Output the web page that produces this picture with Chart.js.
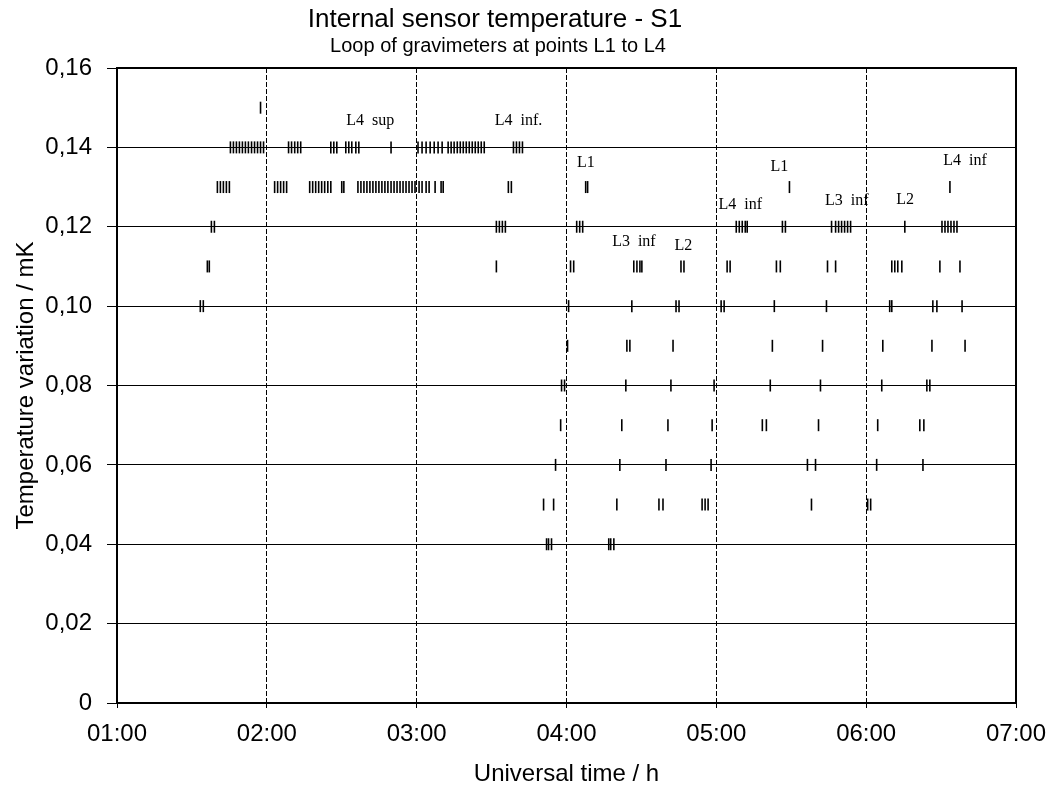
<!DOCTYPE html>
<html>
<head>
<meta charset="utf-8">
<script src="https://cdn.jsdelivr.net/npm/chart.js@4"></script>
<style>
  html, body { margin: 0; padding: 0; background: #fff; }
  #wrap { width: 1047px; height: 787px; }
</style>
</head>
<body>
<div id="wrap"><canvas id="chart" width="1047" height="787"></canvas></div>
<script>
// Temperature levels (mK) and the times (decimal hours UT) of the readings at each level
const levels = [0.15, 0.14, 0.13, 0.12, 0.11, 0.10, 0.09, 0.08, 0.07, 0.06, 0.05, 0.04];

const t015 = [1.958];
const t014 = [1.757, 1.777, 1.797, 1.817, 1.837, 1.857, 1.877, 1.898, 1.918, 1.938, 1.958, 1.978,
    2.145, 2.165, 2.186, 2.206, 2.226, 2.427, 2.447, 2.467, 2.527, 2.547, 2.567, 2.594, 2.614, 2.829,
    3.009, 3.036, 3.063, 3.090, 3.117, 3.143, 3.170, 3.210, 3.230, 3.250, 3.271, 3.291, 3.311, 3.331,
    3.351, 3.371, 3.391, 3.411, 3.431, 3.451, 3.646, 3.666, 3.686, 3.706];
const t013 = [1.670, 1.690, 1.710, 1.730, 1.750, 2.052, 2.072, 2.092, 2.112, 2.132,
    2.286, 2.306, 2.326, 2.346, 2.366, 2.386, 2.407, 2.427, 2.500, 2.514,
    2.608, 2.628, 2.648, 2.668, 2.688, 2.708, 2.728, 2.748, 2.768, 2.788, 2.808, 2.829, 2.849, 2.869,
    2.889, 2.909, 2.929, 2.949, 2.969, 2.989, 3.016, 3.036, 3.063, 3.083, 3.123, 3.163, 3.177,
    3.612, 3.632, 4.128, 4.141, 5.488, 6.559];
const t012 = [1.630, 1.650, 3.532, 3.552, 3.572, 3.592, 4.068, 4.088, 4.108,
    5.133, 5.153, 5.173, 5.193, 5.206, 5.441, 5.461, 5.769, 5.796, 5.816, 5.836, 5.856, 5.876, 5.896,
    6.258, 6.506, 6.526, 6.546, 6.566, 6.586, 6.606];
const t011 = [1.603, 1.616, 3.532, 4.027, 4.048, 4.449, 4.470, 4.490, 4.503, 4.764, 4.784,
    5.072, 5.092, 5.401, 5.427, 5.742, 5.796, 6.171, 6.191, 6.211, 6.238, 6.492, 6.626];
const t010 = [1.556, 1.576, 4.014, 4.436, 4.731, 4.751, 5.032, 5.052, 5.387, 5.735,
    6.157, 6.171, 6.445, 6.472, 6.640];
const t009 = [4.007, 4.403, 4.423, 4.711, 5.374, 5.709, 6.111, 6.439, 6.660];
const t008 = [3.967, 3.987, 4.396, 4.697, 4.985, 5.360, 5.695, 6.104, 6.405, 6.425];
const t007 = [3.961, 4.369, 4.677, 4.972, 5.307, 5.334, 5.682, 6.077, 6.358, 6.385];
const t006 = [3.927, 4.356, 4.664, 4.965, 5.608, 5.662, 6.070, 6.379];
const t005 = [3.847, 3.914, 4.336, 4.617, 4.644, 4.905, 4.925, 4.945, 5.635, 6.010, 6.030];
const t004 = [3.867, 3.880, 3.900, 4.282, 4.295, 4.316];

const timesByLevel = [t015, t014, t013, t012, t011, t010, t009, t008, t007, t006, t005, t004];

// Station annotations
const noteTexts  = ['L4  sup', 'L4  inf.', 'L1', 'L3  inf', 'L2', 'L4  inf', 'L1', 'L3  inf', 'L2', 'L4  inf'];
const noteTimes  = [2.69, 3.68, 4.13, 4.45, 4.78, 5.16, 5.42, 5.87, 6.26, 6.66];
const noteValues = [0.1467, 0.1467, 0.1360, 0.1162, 0.1152, 0.1255, 0.1350, 0.1265, 0.1268, 0.1366];

const points = [];
levels.forEach((lvl, i) => {
    timesByLevel[i].forEach(t => points.push({ x: t, y: lvl }));
});

const fmtTime = v => (v < 10 ? '0' : '') + v + ':00';
const fmtTemp = v => v === 0 ? '0' : v.toFixed(2).replace('.', ',');
const SANS = '"Liberation Sans", Arial, sans-serif';

const notesPlugin = {
    id: 'notes',
    afterDatasetsDraw(chart) {
        const ctx = chart.ctx;
        const xs = chart.scales.x, ys = chart.scales.y;
        ctx.save();
        ctx.fillStyle = '#000';
        ctx.font = '16px "Liberation Serif", "DejaVu Serif", serif';
        ctx.textAlign = 'center';
        ctx.textBaseline = 'middle';
        noteTexts.forEach((txt, i) => {
            ctx.fillText(txt, xs.getPixelForValue(noteTimes[i]), ys.getPixelForValue(noteValues[i]));
        });
        ctx.restore();
    },
    afterDraw(chart) {
        const ctx = chart.ctx;
        ctx.save();
        ctx.fillStyle = '#000';
        ctx.textAlign = 'center';
        ctx.textBaseline = 'middle';
        ctx.font = '26px ' + SANS;
        ctx.fillText('Internal sensor temperature - S1', 495, 20);
        ctx.font = '20px ' + SANS;
        ctx.fillText('Loop of gravimeters at points L1 to L4', 498, 46);
        // cadre
        const a = chart.chartArea;
        ctx.strokeStyle = '#000';
        ctx.lineWidth = 2;
        ctx.strokeRect(a.left, a.top, a.right - a.left, a.bottom - a.top);
        ctx.restore();
    }
};

new Chart(document.getElementById('chart'), {
    type: 'scatter',
    data: {
        datasets: [{
            label: 'S1',
            data: points,
            pointStyle: 'line',
            rotation: 90,
            radius: 6,
            hoverRadius: 6,
            borderColor: '#000',
            backgroundColor: '#000',
            borderWidth: 1.6
        }]
    },
    options: {
        responsive: false,
        animation: false,
        layout: { padding: { top: 68, right: 31, left: 8, bottom: -6 } },
        plugins: {
            legend: { display: false },
            tooltip: { enabled: false }
        },
        scales: {
            x: {
                type: 'linear',
                min: 1,
                max: 7,
                afterFit(scale) {
                    scale.height = 90;
                    scale.paddingLeft = 0;
                    scale.paddingRight = 0;
                },
                ticks: {
                    stepSize: 1,
                    callback: fmtTime,
                    color: '#000',
                    padding: 12,
                    font: { family: SANS, size: 24 }
                },
                grid: { color: '#000', lineWidth: 1, tickLength: 5, tickColor: '#000' },
                border: { color: '#000', width: 2, dash: [5, 2] },
                title: {
                    display: true,
                    text: 'Universal time / h',
                    color: '#000',
                    font: { family: SANS, size: 24 }
                }
            },
            y: {
                min: 0,
                max: 0.16,
                afterFit(scale) {
                    scale.width = 109;
                    scale.paddingTop = 0;
                    scale.paddingBottom = 0;
                },
                ticks: {
                    stepSize: 0.02,
                    callback: fmtTemp,
                    color: '#000',
                    padding: 15,
                    font: { family: SANS, size: 24 }
                },
                grid: { color: '#000', lineWidth: 1, tickLength: 10, tickColor: '#000' },
                border: { color: '#000', width: 2 },
                title: {
                    display: true,
                    text: 'Temperature variation / mK',
                    color: '#000',
                    font: { family: SANS, size: 24 }
                }
            }
        }
    },
    plugins: [notesPlugin]
});
</script>
</body>
</html>
